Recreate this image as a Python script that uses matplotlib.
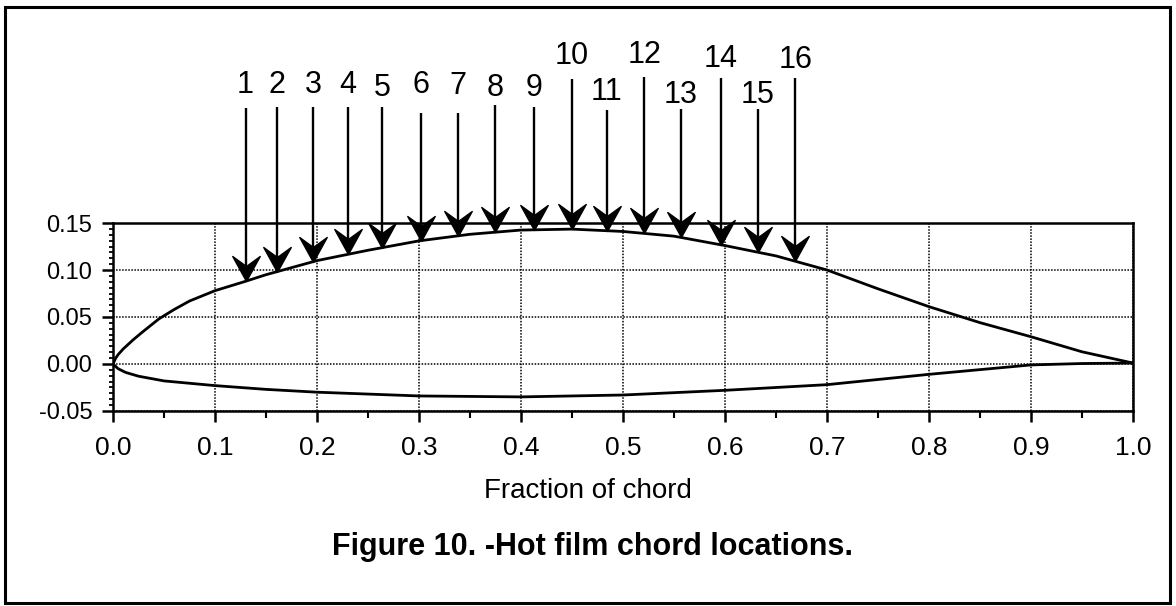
import numpy as np
import matplotlib
matplotlib.use('Agg')
import matplotlib.pyplot as plt
from matplotlib.path import Path
from matplotlib.patches import Rectangle
from matplotlib.ticker import MultipleLocator, FormatStrFormatter

plt.rcParams['font.family'] = ['Liberation Sans', 'DejaVu Sans']

# airfoil upper / lower surface (fraction of chord)
upper_x = [0.0, 0.0025, 0.005, 0.01, 0.02, 0.03, 0.045, 0.06, 0.075, 0.10, 0.13, 0.15,
           0.20, 0.25, 0.30, 0.35, 0.40, 0.45, 0.50, 0.55, 0.60, 0.65, 0.70, 0.75,
           0.80, 0.85, 0.90, 0.95, 1.00]
upper_y = [0.0, 0.006, 0.010, 0.016, 0.026, 0.035, 0.048, 0.058, 0.067, 0.078, 0.088,
           0.095, 0.110, 0.121, 0.131, 0.138, 0.1425, 0.1435, 0.141, 0.136, 0.126,
           0.115, 0.100, 0.080, 0.061, 0.044, 0.029, 0.013, 0.001]
lower_x = [0.0, 0.005, 0.0125, 0.025, 0.05, 0.10, 0.15, 0.20, 0.30, 0.40, 0.50, 0.60,
           0.70, 0.80, 0.85, 0.90, 0.95, 1.00]
lower_y = [0.0, -0.005, -0.009, -0.013, -0.018, -0.023, -0.027, -0.030, -0.034, -0.035,
           -0.033, -0.028, -0.022, -0.011, -0.006, -0.001, 0.0005, 0.001]

# hot film sensor locations
film_no = list(range(1, 17))
film_x = [0.130, 0.161, 0.196, 0.230, 0.264, 0.302, 0.338, 0.375, 0.413, 0.450,
          0.484, 0.521, 0.557, 0.596, 0.632, 0.669]

# arrow tail heights and label baselines (data units)
shaft_top = [0.272, 0.273, 0.273, 0.273, 0.273, 0.267, 0.267, 0.276, 0.273, 0.303,
             0.270, 0.305, 0.271, 0.304, 0.271, 0.304]
label_base = [0.288, 0.288, 0.288, 0.288, 0.285, 0.288, 0.287, 0.285, 0.285, 0.319,
              0.281, 0.320, 0.278, 0.316, 0.278, 0.315]

fig = plt.figure(figsize=(11.76, 6.06), dpi=100)
ax = fig.add_axes([0.0961, 0.3218, 0.8673, 0.3102])

ax.plot(upper_x, upper_y, color='black', lw=2.0, zorder=3)
ax.plot(lower_x, lower_y, color='black', lw=2.0, zorder=3)

# arrowhead with notched back, tip at the origin
head = Path([(0, 0), (-0.55, 1.0), (0, 0.6), (0.55, 1.0), (0, 0)],
            [Path.MOVETO, Path.LINETO, Path.LINETO, Path.LINETO, Path.CLOSEPOLY])

tip_y = np.interp(film_x, upper_x, upper_y)
ax.vlines(film_x, tip_y + 0.01, shaft_top, color='black', lw=1.7, clip_on=False, zorder=4)
ax.plot(film_x, tip_y, ls='none', marker=head, ms=36, color='black',
        clip_on=False, zorder=5)
for n, x, yb in zip(film_no, film_x, label_base):
    ax.text(x, yb, str(n), ha='center', va='baseline', fontsize=22)

ax.set_xlim(0.0, 1.0)
ax.set_ylim(-0.05, 0.15)
ax.xaxis.set_major_locator(MultipleLocator(0.1))
ax.xaxis.set_minor_locator(MultipleLocator(0.05))
ax.yaxis.set_major_locator(MultipleLocator(0.05))
ax.yaxis.set_minor_locator(MultipleLocator(0.05 / 8))
ax.xaxis.set_major_formatter(FormatStrFormatter('%.1f'))
ax.yaxis.set_major_formatter(FormatStrFormatter('%.2f'))

ax.tick_params(axis='x', which='major', direction='out', length=8, width=1.8,
               pad=10, labelsize=19)
ax.tick_params(axis='x', which='minor', direction='out', length=5, width=1.5)
ax.tick_params(axis='y', which='major', direction='out', length=8, width=1.8,
               pad=7, labelsize=17)
ax.tick_params(axis='y', which='minor', direction='out', length=3, width=1.3)
ax.tick_params(top=False, right=False)

ax.grid(True, which='major', color='black', lw=1.1, ls=(0, (1, 1)))
for s in ax.spines.values():
    s.set_linewidth(1.8)

fig.text(0.4996, 0.178, 'Fraction of chord', ha='center', va='baseline', fontsize=20)
fig.text(0.504, 0.0842, 'Figure 10. -Hot film chord locations.', ha='center',
         va='baseline', fontsize=22, fontweight='bold')

fig.add_artist(Rectangle((0.004, 0.005), 0.991, 0.983, transform=fig.transFigure,
                         fill=False, lw=2.2, ec='black'))

fig.savefig('out.png', dpi=100)
